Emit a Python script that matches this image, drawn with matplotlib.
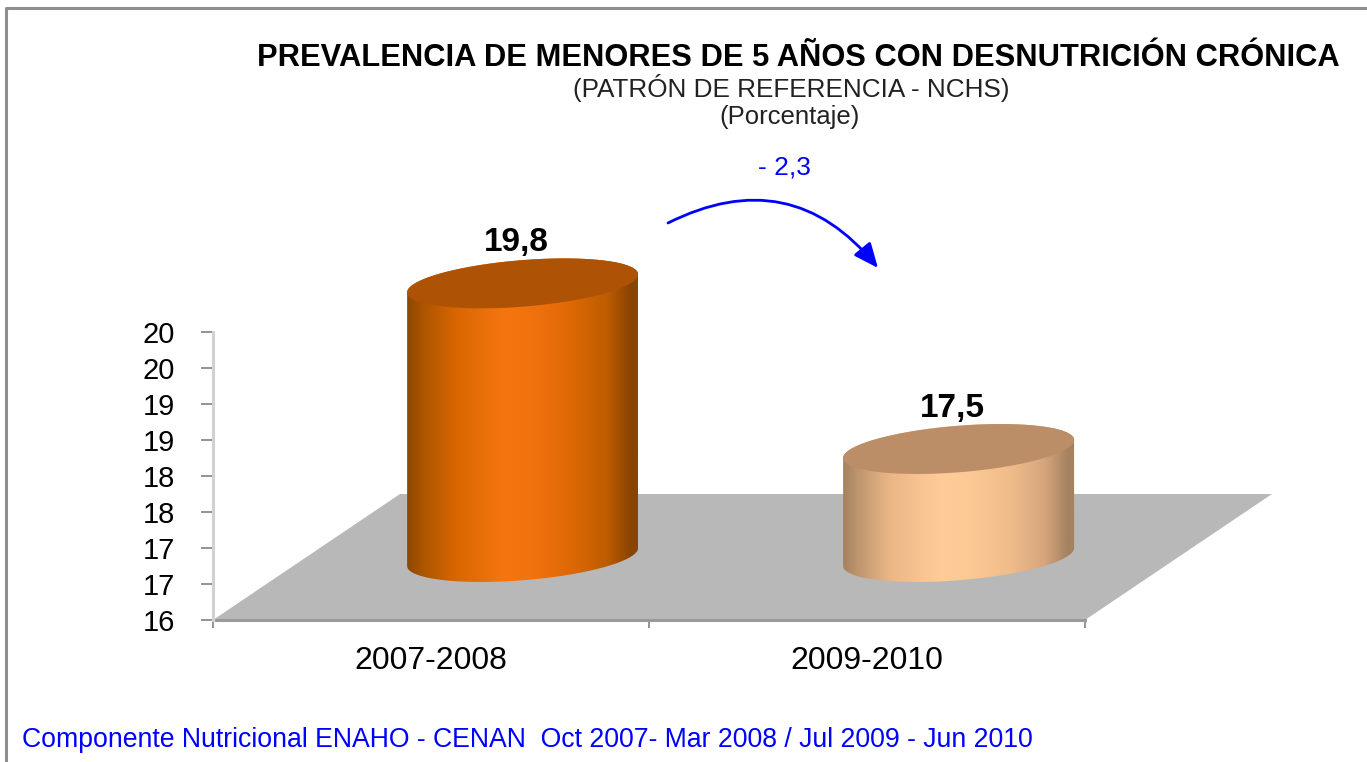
#!/usr/bin/env python3
"""Prevalencia de desnutricion cronica, cilindros 3D sobre piso gris."""

import matplotlib

matplotlib.use("Agg")
import matplotlib.pyplot as plt
import numpy as np
from matplotlib.colors import LinearSegmentedColormap
from matplotlib.lines import Line2D
from matplotlib.patches import PathPatch, Polygon
from matplotlib.path import Path

W, H = 1367, 762

PERIODS = ["2007-2008", "2009-2010"]
VALUES = [19.8, 17.5]
VALUE_LABELS = ["19,8", "17,5"]
Y_TICKS = [16, 16.5, 17, 17.5, 18, 18.5, 19, 19.5, 20]
Y_LABELS = ["16", "17", "17", "18", "18", "19", "19", "20", "20"]

SIDE_POS = [0, 0.07, 0.2, 0.42, 0.55, 0.72, 0.87, 0.97, 1]
SIDE_STOPS = [
    ["#8E4800", "#AD5500", "#D66500", "#F57610", "#F0720E", "#DD6806", "#BC5C00", "#8A4400", "#8A4400"],
    ["#A5825F", "#C09770", "#EBB686", "#FFCC99", "#FCC995", "#F0BC8A", "#D6A67D", "#A5825F", "#A5825F"],
]
TOP_COLORS = ["#AE5305", "#BC8E68"]

# perspectiva del piso, en unidades de datos
DEPTH_X = 187 / 436
DEPTH_Y = 126 / 72
HALF_W = 115.5 / 436
ELL_B = 23.3 / 72
ELL_S = 9 / 72

plt.rcParams["font.family"] = ["Liberation Sans", "DejaVu Sans"]


def ellipse(cx, cy, t):
    return np.column_stack(
        [cx + HALF_W * np.cos(t), cy + ELL_B * np.sin(t) + ELL_S * np.cos(t)]
    )


def draw_cylinder(ax, x, value, stops, top_color):
    cx = x + DEPTH_X * 0.49
    base = 16 + DEPTH_Y / 2
    top = base + value - 16

    lower = ellipse(cx, base, np.linspace(np.pi, 2 * np.pi, 80))
    upper = ellipse(cx, top, np.linspace(0, np.pi, 80))
    side = PathPatch(Path(np.vstack([lower, upper, lower[:1]])), fc="none", ec="none", clip_on=False)
    ax.add_patch(side)

    cmap = LinearSegmentedColormap.from_list("side", list(zip(SIDE_POS, stops)))
    gradient = np.linspace(0, 1, 256).reshape(1, -1)
    im = ax.imshow(
        gradient,
        cmap=cmap,
        aspect="auto",
        extent=(cx - HALF_W, cx + HALF_W, base - 1, top + 1),
        zorder=3,
    )
    im.set_clip_box(ax.figure.bbox)
    im.set_clip_path(side)

    cap = ellipse(cx, top, np.linspace(0, 2 * np.pi, 160))
    ax.add_patch(Polygon(cap, fc=top_color, ec="none", zorder=4, clip_on=False))
    return cx, top


def main():
    fig = plt.figure(figsize=(W / 100, H / 100), dpi=100)
    # el marco solo se ve arriba y a la izquierda
    fig.add_artist(
        Line2D([6 / W, 6 / W, 1], [0, 1 - 8 / H, 1 - 8 / H], transform=fig.transFigure,
               color="#8E8E8E", lw=2.2, zorder=-1)
    )

    ax = fig.add_axes([213 / W, 1 - 620 / H, 872 / W, 288 / H])
    ax.patch.set_visible(False)

    floor = [(0, 16), (2, 16), (2 + DEPTH_X, 16 + DEPTH_Y), (DEPTH_X, 16 + DEPTH_Y)]
    ax.add_patch(Polygon(floor, fc="#B8B8B8", ec="none", clip_on=False, zorder=1))
    ax.plot([0, 2], [16, 16], color="#9A9A9A", lw=2.2, clip_on=False, zorder=2)

    for i, value in enumerate(VALUES):
        cx, top = draw_cylinder(ax, i + 0.5, value, SIDE_STOPS[i], TOP_COLORS[i])
        ax.annotate(VALUE_LABELS[i], (cx, top), xytext=(-6, 41), textcoords="offset pixels",
                    ha="center", va="center", fontsize=24, fontweight="bold", color="black",
                    annotation_clip=False)

    ax.set_xlim(0, 2)
    ax.set_ylim(16, 20)
    for side in ["top", "right", "bottom"]:
        ax.spines[side].set_visible(False)
    ax.spines["left"].set_color("#D2D2D2")
    ax.spines["left"].set_linewidth(2.2)

    ax.set_yticks(Y_TICKS, labels=Y_LABELS)
    ax.tick_params(axis="y", length=8.5, width=1.2, color="#808080", pad=19, labelsize=21)
    ax.set_xticks([0, 1, 2], labels=[])
    ax.set_xticks([0.5, 1.5], labels=PERIODS, minor=True)
    ax.tick_params(axis="x", which="major", length=6, width=1.2, color="#808080")
    ax.tick_params(axis="x", which="minor", length=0, pad=19, labelsize=23)

    fig.text(798 / W, 1 - 58 / H, "PREVALENCIA DE MENORES DE 5 AÑOS CON DESNUTRICIÓN CRÓNICA",
             ha="center", va="center", fontsize=22.2, fontweight="bold", color="black")
    fig.text(791 / W, 1 - 88 / H, "(PATRÓN DE REFERENCIA - NCHS)", ha="center", va="center",
             fontsize=18.8, color="#222222")
    fig.text(790 / W, 1 - 117 / H, "(Porcentaje)", ha="center", va="center",
             fontsize=18.5, color="#222222")
    fig.text(784 / W, 1 - 167 / H, "- 2,3", ha="center", va="center", fontsize=19, color="#0000FF")
    fig.text(22 / W, 1 - 740 / H, "Componente Nutricional ENAHO - CENAN  Oct 2007- Mar 2008 / Jul 2009 - Jun 2010",
             ha="left", va="center", fontsize=19.2, color="#0000FF")

    ax.annotate(
        "",
        xy=(878, H - 268),
        xytext=(668, H - 223),
        xycoords="figure pixels",
        textcoords="figure pixels",
        arrowprops=dict(
            arrowstyle="-|>,head_length=1.5,head_width=0.65",
            connectionstyle="arc3,rad=-0.4",
            color="#0000FF",
            lw=2,
            shrinkA=0,
            shrinkB=0,
        ),
    )

    fig.savefig("out.png", dpi=100)
    plt.close(fig)


if __name__ == "__main__":
    main()
